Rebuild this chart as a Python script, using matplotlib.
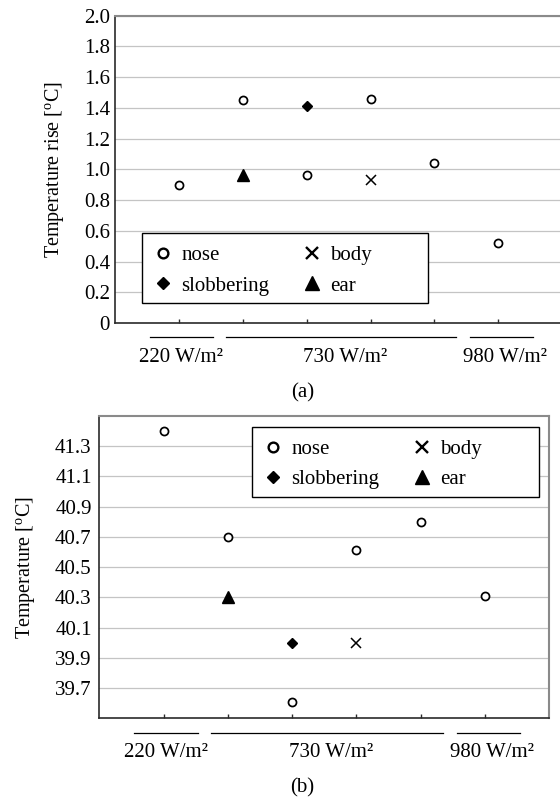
import matplotlib
matplotlib.use("Agg")
import matplotlib.pyplot as plt
from matplotlib.lines import Line2D
from matplotlib.patches import Rectangle
from matplotlib.transforms import ScaledTranslation

plt.rcParams["font.family"] = ["Liberation Serif", "DejaVu Serif"]
plt.rcParams["mathtext.fontset"] = "custom"
plt.rcParams["mathtext.rm"] = "Liberation Serif"
plt.rcParams["font.size"] = 15

# measurement cases along the x axis
cases = [1, 2, 3, 4, 5, 6]
group_labels = ["220 W/m²", "730 W/m²", "980 W/m²"]

# (a) temperature rise [degC]
rise_nose = [0.90, 1.45, 0.96, 1.46, 1.04, 0.52]
rise_slobbering = [1.41]
rise_body = [0.93]
rise_ear = [0.96]
rise_ticks = [0, 0.2, 0.4, 0.6, 0.8, 1.0, 1.2, 1.4, 1.6, 1.8, 2.0]
rise_ticklabels = ["0", "0.2", "0.4", "0.6", "0.8", "1.0", "1.2", "1.4", "1.6", "1.8", "2.0"]

# (b) temperature [degC]
temp_nose = [41.40, 40.70, 39.61, 40.61, 40.80, 40.31]
temp_slobbering = [40.00]
temp_body = [40.00]
temp_ear = [40.30]
temp_ticks = [39.7, 39.9, 40.1, 40.3, 40.5, 40.7, 40.9, 41.1, 41.3]
temp_ticklabels = ["39.7", "39.9", "40.1", "40.3", "40.5", "40.7", "40.9", "41.1", "41.3"]

# which case each single-point series belongs to
slobbering_case = [3]
body_case = [4]
ear_case = [2]

# group brackets below the axis (x ranges in case units) and label centres
group_spans = [(0.54, 1.53), (1.73, 5.34), (5.56, 6.54)]
group_centres = [1.03, 3.61, 6.11]

DARK = "#2a2a2a"


def style_axes(ax, ticks, ticklabels, ylim, label, label_x, pad):
    ax.set_xlim(0, 7)
    ax.set_ylim(*ylim)
    ax.set_yticks(ticks, ticklabels)
    ax.set_xticks(cases)
    ax.tick_params(axis="x", direction="in", length=3, width=1, color=DARK,
                   labelbottom=False)
    ax.tick_params(axis="y", length=0, pad=pad, labelsize=15)
    ax.yaxis.grid(True, color="#c4c4c4", lw=0.9)
    ax.set_axisbelow(True)
    for side in ("left", "bottom"):
        ax.spines[side].set_color(DARK)
        ax.spines[side].set_linewidth(1.2)
    for side in ("top", "right"):
        ax.spines[side].set_color("#8a8a8a")
        ax.spines[side].set_linewidth(1.5)
    ax.set_ylabel(label, va="center", fontsize=14.5)
    ax.yaxis.set_label_coords(label_x, 0.5)


def draw_series(ax, nose, slob, body, ear):
    ax.plot(cases, nose, ls="none", marker="o", ms=5.8, mfc="white",
            mec="black", mew=1.25, zorder=4)
    ax.plot(slobbering_case, slob, ls="none", marker="D", ms=5.2,
            color="black", zorder=4)
    ax.plot(body_case, body, ls="none", marker="x", ms=7.5, mew=1.1,
            color="black", zorder=4)
    ax.plot(ear_case, ear, ls="none", marker="^", ms=8, color="black",
            zorder=4)


def draw_groups(fig, ax):
    tr = ax.get_xaxis_transform()
    line_off = ScaledTranslation(0, -14.4 / 100, fig.dpi_scale_trans)
    text_off = ScaledTranslation(0, -34.5 / 100, fig.dpi_scale_trans)
    for (a, b), c, lab in zip(group_spans, group_centres, group_labels):
        ax.plot([a, b], [0, 0], color="black", lw=0.9, transform=tr + line_off,
                clip_on=False)
        ax.text(c, 0, lab, transform=tr + text_off, ha="center", va="center",
                fontsize=15)


def draw_legend(ax, box, anchor):
    x0, y0, x1, y1 = box
    ax.add_patch(Rectangle((x0, y0), x1 - x0, y1 - y0, transform=ax.transAxes,
                           facecolor="white", edgecolor="black", lw=1.0,
                           zorder=5))
    handles = [
        Line2D([], [], ls="none", marker="o", ms=7, mfc="white", mec="black",
               mew=1.7, label="nose"),
        Line2D([], [], ls="none", marker="D", ms=6.3, color="black",
               label="slobbering"),
        Line2D([], [], ls="none", marker="x", ms=8.5, mew=1.7, color="black",
               label="body"),
        Line2D([], [], ls="none", marker="^", ms=10, color="black",
               label="ear"),
    ]
    leg = ax.legend(handles=handles, ncol=2, loc="upper left",
                    bbox_to_anchor=anchor, frameon=False, borderpad=0,
                    borderaxespad=0, handlelength=1.0, handletextpad=0.35,
                    labelspacing=0.52, columnspacing=1.575, fontsize=15)
    leg.set_zorder(6)


fig = plt.figure(figsize=(5.6, 8.01), dpi=100)

ax_a = fig.add_axes([0.2059, 0.5968, 0.7975, 0.3836])
style_axes(ax_a, rise_ticks, rise_ticklabels, (0, 2.0),
           r"Temperature rise [$^{\mathrm{o}}$C]", -0.135, 3.8)
draw_series(ax_a, rise_nose, rise_slobbering, rise_body, rise_ear)
draw_groups(fig, ax_a)
draw_legend(ax_a, (0.0591, 0.0641, 0.7009, 0.2919), (0.0842, 0.2515))

ax_b = fig.add_axes([0.1773, 0.1032, 0.8036, 0.3778])
style_axes(ax_b, temp_ticks, temp_ticklabels, (39.5, 41.5),
           r"Temperature [$^{\mathrm{o}}$C]", -0.162, 5.5)
draw_series(ax_b, temp_nose, temp_slobbering, temp_body, temp_ear)
draw_groups(fig, ax_b)
draw_legend(ax_b, (0.3387, 0.7323, 0.9778, 0.9637), (0.3636, 0.9217))

fig.text(303 / 560, 1 - 393 / 801, "(a)", ha="center", va="center", fontsize=15)
fig.text(302 / 560, 1 - 788 / 801, "(b)", ha="center", va="center", fontsize=15)

fig.savefig("out.png", dpi=100)
